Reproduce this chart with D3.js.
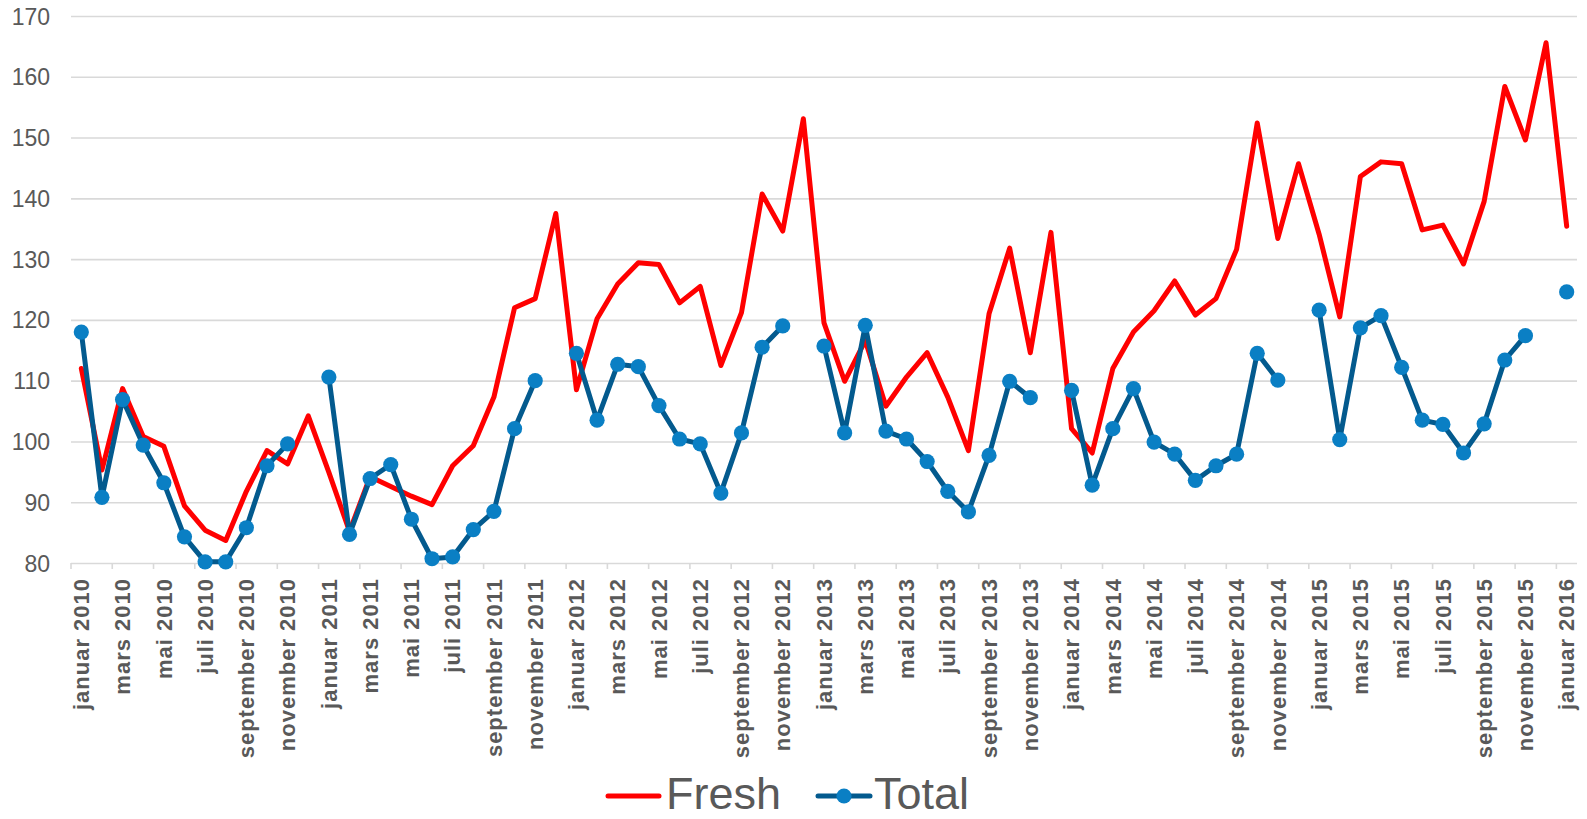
<!DOCTYPE html>
<html>
<head>
<meta charset="utf-8">
<script src="https://cdn.jsdelivr.net/npm/d3@7"></script>
<style>
  html, body { margin: 0; padding: 0; background: #fff; }
  svg { display: block; }
  text { font-family: "Liberation Sans", Arial, sans-serif; }
</style>
</head>
<body>
<svg id="chart" width="1587" height="819"></svg>
<script>
const monthNames = ["januar","februar","mars","april","mai","juni","juli","august","september","oktober","november","desember"];
const years = [2010, 2011, 2012, 2013, 2014, 2015, 2016];
const categories = [];
years.forEach(y => monthNames.forEach(m => { if (categories.length < 73) categories.push(m + " " + y); }));

const yTicks = [80, 90, 100, 110, 120, 130, 140, 150, 160, 170];

const fresh = [
  112.0, 95.3, 108.7, 100.8, 99.2, 89.4, 85.4, 83.7, 91.8, 98.5, 96.3, 104.2,
  94.9, 85.2, 94.2, 92.6, 91.0, 89.6, 96.0, 99.3, 107.3, 122.0, 123.5, 137.5,
  108.5, 120.2, 125.9, 129.4, 129.1, 122.8, 125.5, 112.5, 121.2, 140.7, 134.6, 153.1,
  119.5, 109.9, 116.6, 105.8, 110.6, 114.6, 107.3, 98.5, 121.0, 131.8, 114.6, 134.4,
  102.1, 98.1, 112.0, 118.0, 121.5, 126.4, 120.8, 123.5, 131.6, 152.4, 133.4, 145.7,
  134.1, 120.5, 143.6, 146.0, 145.7, 134.8, 135.6, 129.2, 139.5, 158.4, 149.6, 165.6,
  135.4
];

const total = [
  118.0, 90.8, 106.9, 99.4, 93.2, 84.3, 80.2, 80.2, 85.8, 96.0, 99.6, null,
  110.6, 84.7, 93.9, 96.2, 87.2, 80.7, 81.0, 85.5, 88.5, 102.1, 110.0, null,
  114.5, 103.5, 112.7, 112.3, 105.9, 100.4, 99.6, 91.5, 101.4, 115.5, 119.0, null,
  115.7, 101.4, 119.1, 101.7, 100.4, 96.7, 91.8, 88.4, 97.7, 109.9, 107.2, null,
  108.4, 92.8, 102.1, 108.7, 99.9, 97.9, 93.6, 96.0, 97.9, 114.5, 110.1, null,
  121.6, 100.3, 118.7, 120.7, 112.2, 103.5, 102.8, 98.1, 102.9, 113.4, 117.4, null,
  124.6
];

const seriesNames = ["Fresh", "Total"];

const svg = d3.select("#chart");
const plot = { left: 71, right: 1577, top: 16, bottom: 563 };

const x = d3.scaleBand().domain(categories).range([plot.left, plot.right]).padding(0);
const y = d3.scaleLinear().domain([80, 170]).range([plot.bottom, plot.top]);
const cx = c => x(c) + x.bandwidth() / 2;

const gridColor = "#d9d9d9";
const textColor = "#595959";

// gridlines
const yAxis = d3.axisLeft(y).tickValues(yTicks).tickSize(-(plot.right - plot.left)).tickFormat(d3.format("d")).tickPadding(20);
const gy = svg.append("g").attr("transform", `translate(${plot.left},0)`).call(yAxis);
gy.select(".domain").remove();
gy.selectAll(".tick line").attr("stroke", gridColor).attr("stroke-width", 1.6);
gy.selectAll(".tick text").attr("fill", textColor).attr("font-size", 23).attr("x", -21).attr("dy", "0.35em");

// x axis ticks at category boundaries every 2 categories
const tickCats = categories.filter((c, i) => i % 2 === 0);
svg.append("g").selectAll("line").data(tickCats).join("line")
  .attr("x1", d => x(d)).attr("x2", d => x(d))
  .attr("y1", plot.bottom).attr("y2", plot.bottom + 6)
  .attr("stroke", gridColor).attr("stroke-width", 1.6);

// x labels
svg.append("g").selectAll("text").data(tickCats).join("text")
  .attr("transform", d => `translate(${cx(d)},${plot.bottom + 15}) rotate(-90)`)
  .attr("text-anchor", "end")
  .attr("dy", "0.35em")
  .attr("font-size", 22)
  .attr("font-weight", "bold")
  .attr("letter-spacing", 1)
  .attr("fill", textColor)
  .text(d => d);

// lines
const freshData = categories.map((c, i) => ({ c, v: fresh[i] }));
const totalData = categories.map((c, i) => ({ c, v: total[i] }));

const line = d3.line().defined(d => d.v !== null).x(d => cx(d.c)).y(d => y(d.v));

svg.append("path").datum(freshData)
  .attr("d", line).attr("fill", "none")
  .attr("stroke", "#ff0000").attr("stroke-width", 5)
  .attr("stroke-linejoin", "round").attr("stroke-linecap", "round");

svg.append("path").datum(totalData)
  .attr("d", line).attr("fill", "none")
  .attr("stroke", "#035a8e").attr("stroke-width", 5)
  .attr("stroke-linejoin", "round").attr("stroke-linecap", "round");

svg.append("g").selectAll("circle").data(totalData.filter(d => d.v !== null)).join("circle")
  .attr("cx", d => cx(d.c)).attr("cy", d => y(d.v)).attr("r", 7.6)
  .attr("fill", "#0a7fc4");

// legend
const lg = svg.append("g");
lg.append("line").attr("x1", 608).attr("x2", 659).attr("y1", 796).attr("y2", 796)
  .attr("stroke", "#ff0000").attr("stroke-width", 5).attr("stroke-linecap", "round");
lg.append("text").attr("x", 666).attr("y", 809).attr("font-size", 45).attr("fill", textColor).text(seriesNames[0]);
lg.append("line").attr("x1", 818).attr("x2", 870).attr("y1", 796).attr("y2", 796)
  .attr("stroke", "#035a8e").attr("stroke-width", 5).attr("stroke-linecap", "round");
lg.append("circle").attr("cx", 844).attr("cy", 796).attr("r", 7.6).attr("fill", "#0a7fc4");
lg.append("text").attr("x", 874).attr("y", 809).attr("font-size", 45).attr("fill", textColor).text(seriesNames[1]);
</script>
</body>
</html>
